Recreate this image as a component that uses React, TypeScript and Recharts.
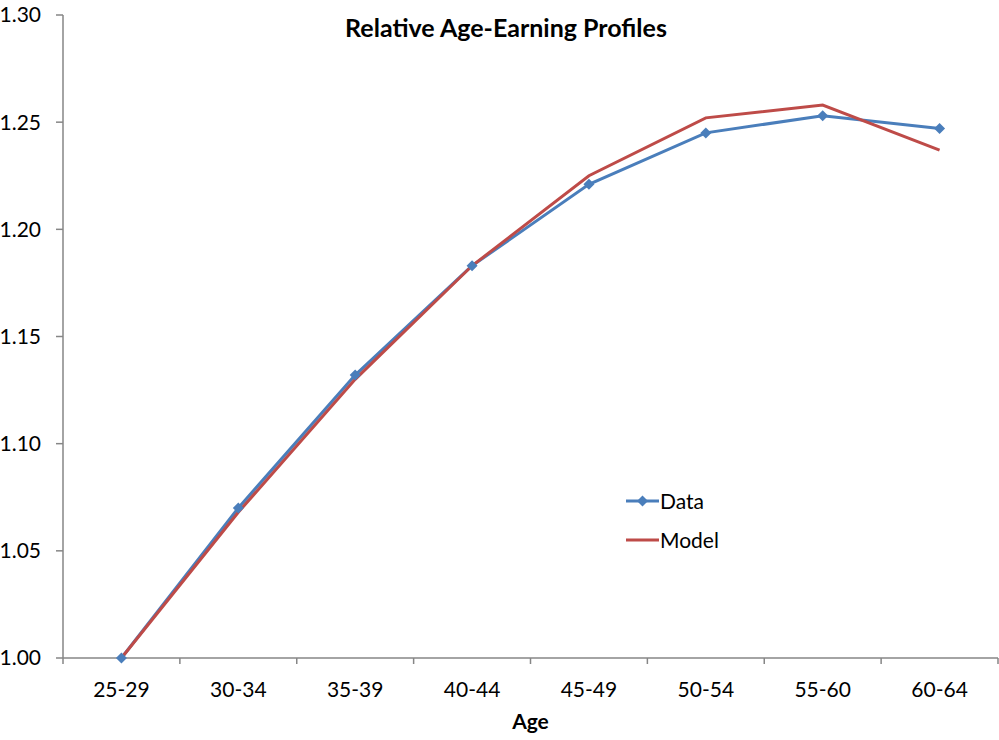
import { LineChart, Line, XAxis, YAxis, Legend } from 'recharts'

// 年龄组
const ageGroups = ['25-29', '30-34', '35-39', '40-44', '45-49', '50-54', '55-60', '60-64']
// 数据 / 模型
const dataValues = [1.0, 1.07, 1.132, 1.183, 1.221, 1.245, 1.253, 1.247]
const modelValues = [1.0, 1.068, 1.13, 1.183, 1.225, 1.252, 1.258, 1.237]
const yTicks = [1.0, 1.05, 1.1, 1.15, 1.2, 1.25, 1.3]
// 类别边界刻度
const edgeTicks = [0, 1, 2, 3, 4, 5, 6, 7, 8]

const BLUE = '#4A7EBB'
const RED = '#BE4B48'
const AXIS = '#868686'
const FONT = 'Lato, "Open Sans", sans-serif'

const rows = ageGroups.map((age, i) => ({
  age,
  idx: i + 0.5,
  data: dataValues[i],
  model: modelValues[i],
}))

const Diamond = (props: any) => {
  const { cx, cy, fill } = props
  if (cx == null || cy == null) return null
  const r = 5.5
  return (
    <path
      d={`M${cx},${cy - r}L${cx + r},${cy}L${cx},${cy + r}L${cx - r},${cy}Z`}
      fill={fill}
    />
  )
}

function LegendBox() {
  const item = (label: string, color: string, marker: boolean) => (
    <div style={{ display: 'flex', alignItems: 'center', height: 39 }}>
      <svg width={33} height={12} style={{ marginRight: 1 }}>
        <line x1={0} y1={6} x2={33} y2={6} stroke={color} strokeWidth={3} />
        {marker && <path d="M16.5,0.5L22,6L16.5,11.5L11,6Z" fill={color} />}
      </svg>
      <span>{label}</span>
    </div>
  )
  return (
    <div style={{ fontFamily: FONT, fontSize: 21, color: '#000' }}>
      {item('Data', BLUE, true)}
      {item('Model', RED, false)}
    </div>
  )
}

export default function App() {
  return (
    <div style={{ position: 'absolute', left: 0, top: 0, width: 999, height: 740 }}>
      <div
        style={{
          position: 'absolute',
          left: 0,
          width: 1012,
          top: 12,
          textAlign: 'center',
          fontFamily: FONT,
          fontWeight: 700,
          fontSize: 25,
          zIndex: 2,
        }}
      >
        Relative Age-Earning Profiles
      </div>
      <LineChart
        width={999}
        height={740}
        data={rows}
        margin={{ top: 15, right: 1, left: 0, bottom: 0 }}
      >
        <XAxis
          xAxisId="b"
          dataKey="age"
          scale="band"
          height={81}
          axisLine={false}
          tickLine={false}
          tickSize={0}
          tickMargin={23}
          interval={0}
          tick={{ fill: '#000', fontSize: 21, fontFamily: FONT }}
          label={{
            value: 'Age',
            position: 'insideBottom',
            offset: 11,
            fill: '#000',
            fontSize: 21,
            fontWeight: 700,
            fontFamily: FONT,
          }}
        />
        <XAxis
          xAxisId="a"
          dataKey="idx"
          type="number"
          domain={[0, 8]}
          allowDataOverflow
          ticks={edgeTicks}
          interval={0}
          tickFormatter={() => ''}
          height={1}
          tickSize={6}
          axisLine={{ stroke: AXIS, strokeWidth: 1.5 }}
          tickLine={{ stroke: AXIS, strokeWidth: 1.5 }}
        />
        <YAxis
          domain={[1, 1.3]}
          ticks={yTicks}
          width={63}
          tickSize={7}
          tickMargin={15}
          tickFormatter={(v: number) => v.toFixed(2)}
          axisLine={{ stroke: AXIS, strokeWidth: 1.5 }}
          tickLine={{ stroke: AXIS, strokeWidth: 1.5 }}
          tick={{ fill: '#000', fontSize: 21, fontFamily: FONT }}
        />
        <Legend
          layout="vertical"
          align="center"
          verticalAlign="middle"
          content={() => <LegendBox />}
          wrapperStyle={{ left: 626, top: 481, width: 150 }}
        />
        <Line
          xAxisId="b"
          dataKey="data"
          name="Data"
          stroke={BLUE}
          strokeWidth={3}
          dot={<Diamond fill={BLUE} />}
          activeDot={false}
          isAnimationActive={false}
        />
        <Line
          xAxisId="b"
          dataKey="model"
          name="Model"
          stroke={RED}
          strokeWidth={3}
          dot={false}
          activeDot={false}
          isAnimationActive={false}
        />
      </LineChart>
    </div>
  )
}
